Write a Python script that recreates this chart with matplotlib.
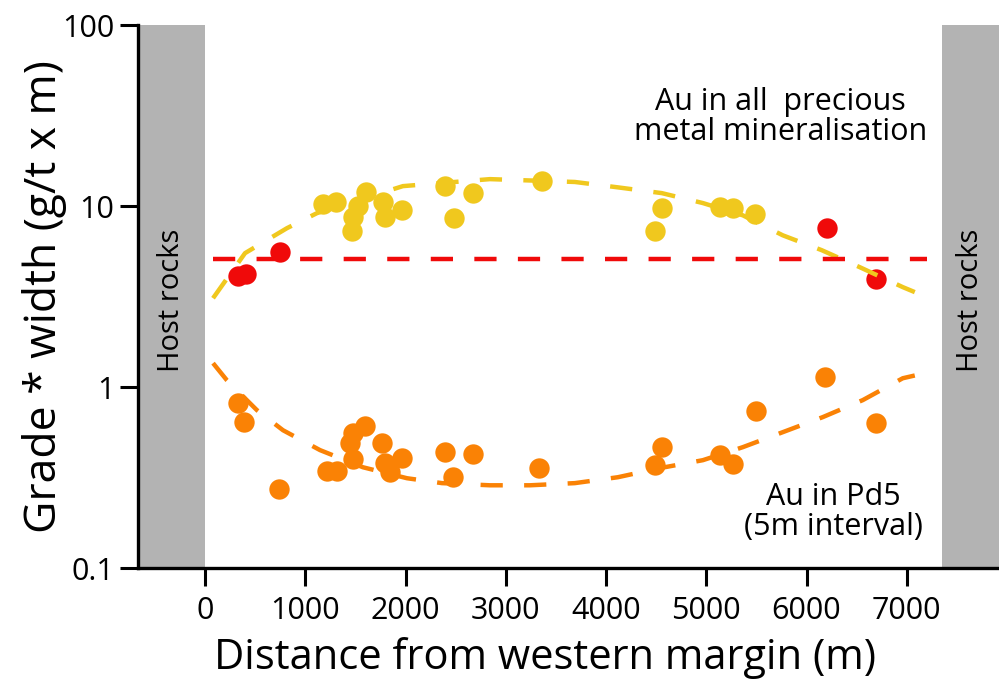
import numpy as np
import matplotlib
matplotlib.use("Agg")
import matplotlib.pyplot as plt

plt.rcParams["font.family"] = ["Open Sans", "DejaVu Sans"]

YELLOW = "#F0C81E"
ORANGE = "#FA8205"
RED = "#F00A0A"
GREY = "#B3B3B3"

# Au across all precious metal mineralisation (grade * width, g/t x m)
au_all_x = [1177, 1306, 1466, 1480, 1526, 1605, 1775, 1795, 1964, 2393, 2483, 2672,
            3360, 4487, 4557, 5135, 5265, 5484]
au_all_y = [10.3, 10.5, 7.3, 8.7, 10.0, 12.0, 10.6, 8.7, 9.5, 12.9, 8.6, 11.8,
            13.7, 7.3, 9.8, 9.9, 9.8, 9.0]

# samples below the 5 g/t x m cut-off line
au_red_x = [329, 409, 748, 6202, 6691]
au_red_y = [4.1, 4.2, 5.6, 7.6, 3.95]
cutoff = 5.1
cutoff_x = [80, 7200]

# Au in the Pd5 horizon (5 m interval)
pd5_x = [329, 389, 738, 1216, 1316, 1446, 1476, 1476, 1595, 1765, 1795, 1845, 1964,
         2393, 2473, 2672, 3330, 4487, 4557, 5135, 5265, 5494, 6182, 6691]
pd5_y = [0.816, 0.641, 0.273, 0.343, 0.343, 0.491, 0.557, 0.400, 0.609, 0.491, 0.380,
         0.339, 0.405, 0.438, 0.318, 0.426, 0.357, 0.371, 0.466, 0.421, 0.375, 0.737,
         1.136, 0.633]

# trend curves
trend_all_x = [80, 399, 818, 1117, 1974, 2842, 3689, 4118, 4557, 4966, 5364, 5763,
               6152, 6531, 6960, 7080]
trend_all_y = [3.1, 5.5, 7.56, 9.15, 12.9, 14.1, 13.6, 12.7, 11.8, 10.4, 8.9, 6.9,
               5.71, 4.6, 3.57, 3.35]
trend_pd5_x = [80, 219, 518, 778, 1147, 1575, 2014, 2363, 2842, 3241, 3689, 4118,
               4537, 4966, 5364, 5763, 6162, 6561, 6960, 7080]
trend_pd5_y = [1.357, 1.09, 0.746, 0.578, 0.449, 0.361, 0.314, 0.295, 0.287, 0.287,
               0.295, 0.318, 0.357, 0.395, 0.466, 0.564, 0.683, 0.848, 1.12, 1.16]

host_left = (-670, 0)
host_right = (7350, 7920)
xticks = [0, 1000, 2000, 3000, 4000, 5000, 6000, 7000]
yticks = [0.1, 1, 10, 100]

fig = plt.figure(figsize=(9.99, 6.98), dpi=100)
ax = fig.add_axes([0.138, 0.186, 0.862, 0.778])

ax.axvspan(*host_left, color=GREY, lw=0, zorder=0)
ax.axvspan(*host_right, color=GREY, lw=0, zorder=0)

ms = 215
ax.scatter(au_all_x, au_all_y, s=ms, color=YELLOW, lw=0, zorder=2)
ax.scatter(au_red_x, au_red_y, s=ms, color=RED, lw=0, zorder=2)
ax.scatter(pd5_x, pd5_y, s=ms, color=ORANGE, lw=0, zorder=2)

dash = (5.0, 4.8)
ax.plot(trend_all_x, trend_all_y, color=YELLOW, lw=3.2, dashes=dash, zorder=3)
ax.plot(trend_pd5_x, trend_pd5_y, color=ORANGE, lw=3.2, dashes=dash, zorder=3)
ax.plot(cutoff_x, [cutoff, cutoff], color=RED, lw=3.2, dashes=dash, zorder=3)

ax.set_yscale("log")
ax.set_xlim(host_left[0], host_right[1])
ax.set_ylim(0.1, 100)
ax.set_xticks(xticks)
ax.set_xticklabels([str(t) for t in xticks])
ax.set_yticks(yticks)
ax.set_yticklabels(["0.1", "1", "10", "100"])
ax.yaxis.set_minor_locator(matplotlib.ticker.NullLocator())
ax.tick_params(axis="both", direction="out", length=13, width=2.2, labelsize=22, pad=4)
ax.tick_params(axis="x", pad=7)

for side in ("top", "right"):
    ax.spines[side].set_visible(False)
for side in ("left", "bottom"):
    ax.spines[side].set_linewidth(2.4)

ax.set_ylabel("Grade * width (g/t x m)", fontsize=32)
ax.yaxis.set_label_coords(-0.082, 0.5)
fig.text(0.546, 0.057, "Distance from western margin (m)", fontsize=30,
         ha="center", va="center")

ax.text(-335, 3.0, "Host rocks", rotation=90, fontsize=21, ha="center", va="center")
ax.text(7635, 3.0, "Host rocks", rotation=90, fontsize=21, ha="center", va="center")

ax.text(5740, 31, "Au in all  precious\nmetal mineralisation", fontsize=22,
        ha="center", va="center", linespacing=1.0)
ax.text(6270, 0.205, "Au in Pd5\n(5m interval)", fontsize=22,
        ha="center", va="center", linespacing=1.0)

fig.savefig("out.png", dpi=100)
